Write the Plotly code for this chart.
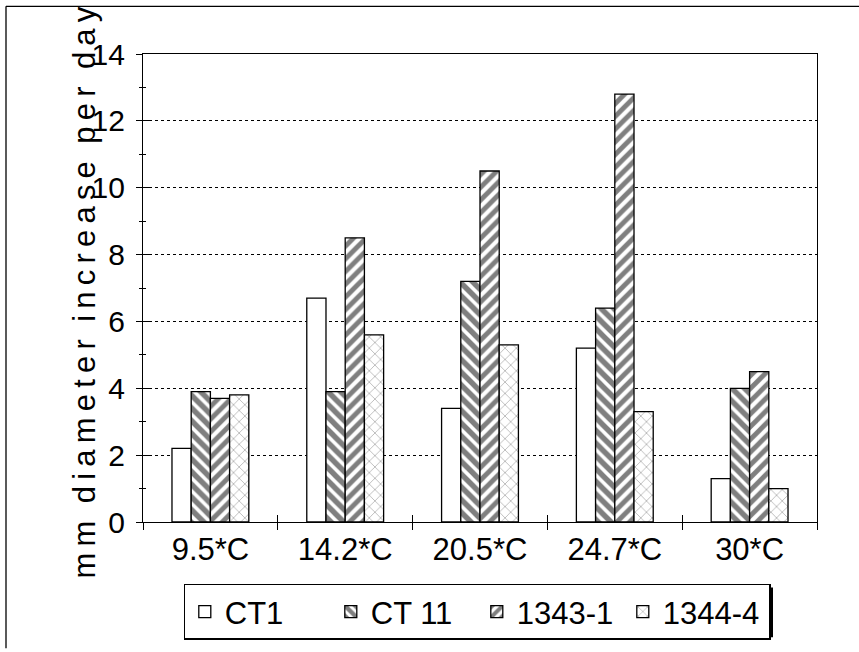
import plotly.graph_objects as go

categories = ["9.5*C", "14.2*C", "20.5*C", "24.7*C", "30*C"]
series_names = ["CT1", "CT 11", "1343-1", "1344-4"]
ct1 = [2.2, 6.7, 3.4, 5.2, 1.3]
ct11 = [3.9, 3.9, 7.2, 6.4, 4.0]
s1343_1 = [3.7, 8.5, 10.5, 12.8, 4.5]
s1344_4 = [3.8, 5.6, 5.3, 3.3, 1.0]
y_ticks = [0, 2, 4, 6, 8, 10, 12, 14]
y_title = "mm diameter increase per day"

FONT = "Liberation Sans, Arial, Helvetica, sans-serif"

patterns = [
    dict(shape="", fgcolor="black", bgcolor="white"),
    dict(shape="\\", fgcolor="black", bgcolor="white", size=9, solidity=0.6),
    dict(shape="/", fgcolor="black", bgcolor="white", size=9, solidity=0.55),
    dict(shape="x", fgcolor="#333", bgcolor="white", size=8, solidity=0.15),
]
values = [ct1, ct11, s1343_1, s1344_4]

fig = go.Figure()
for name, vals, pat in zip(series_names, values, patterns):
    fig.add_trace(go.Bar(
        x=categories, y=vals, name=name,
        marker=dict(color="white", pattern=pat,
                    line=dict(color="black", width=1.3)),
        hoverinfo="skip",
    ))

# invisible helper trace for overlay axes (inside tick halves)
fig.add_trace(go.Scatter(x=categories, y=[0] * len(categories), mode="none",
                         xaxis="x2", yaxis="y2", showlegend=False,
                         hoverinfo="skip"))

# letter-spaced title text
spaced = "\u2009\u00a0\u200a".join(
    "\u2009".join(word) for word in y_title.split(" ")
)

W, H = 859, 652
L, R, T, B = 143, 817, 54, 525
pw, ph = R - L, B - T

def px_x(x):
    return (x - L) / pw

def px_y(y):
    return (B - y) / ph

fig.update_layout(
    width=W, height=H,
    margin=dict(l=L, r=W - R, t=T, b=H - B),
    paper_bgcolor="white", plot_bgcolor="white",
    barmode="group", bargap=0.43, bargroupgap=0,
    font=dict(family=FONT, color="black", size=30),
    showlegend=True,
    legend=dict(
        orientation="h", x=px_x(477), xanchor="center",
        y=px_y(587), yanchor="top",
        bgcolor="white", bordercolor="black", borderwidth=1.3,
        font=dict(size=31, family=FONT, color="black"),
        traceorder="normal", entrywidth=101, entrywidthmode="pixels",
        itemwidth=30,
    ),
    xaxis=dict(
        type="category", categoryarray=categories, range=[-0.5, 4.5],
        showline=True, linecolor="black", linewidth=1.3, mirror=True,
        ticks="outside", tickson="boundaries", ticklen=7, tickwidth=1.3,
        tickcolor="black", showgrid=False,
        tickfont=dict(size=31, family=FONT, color="black"),
    ),
    yaxis=dict(
        range=[0, 14], tickvals=y_ticks,
        showline=True, linecolor="black", linewidth=1.3, mirror=True,
        ticks="outside", ticklen=6, tickwidth=1.3, tickcolor="black",
        minor=dict(ticks="outside", ticklen=3, dtick=1, tickcolor="black",
                   tickwidth=1.3, showgrid=False),
        showgrid=True, gridcolor="black", gridwidth=1, griddash="dot",
        zeroline=False, ticklabelstandoff=5,
        tickfont=dict(size=30, family=FONT, color="black"),
    ),
    xaxis2=dict(
        type="category", categoryarray=categories, range=[-0.5, 4.5],
        overlaying="x", anchor="y2", side="bottom",
        ticks="inside", tickson="boundaries", ticklen=7, tickwidth=1.3,
        tickcolor="black", showticklabels=False, showgrid=False,
        showline=False, zeroline=False,
    ),
    yaxis2=dict(
        range=[0, 14], tickvals=y_ticks, overlaying="y", anchor="x2",
        side="left",
        ticks="inside", ticklen=7, tickwidth=1.3, tickcolor="black",
        minor=dict(ticks="inside", ticklen=3, dtick=1, tickcolor="black",
                   tickwidth=1.3, showgrid=False),
        showticklabels=False, showgrid=False, showline=False, zeroline=False,
    ),
    annotations=[dict(
        text=spaced, textangle=-90, xref="paper", yref="paper",
        x=px_x(84), y=px_y(294), xanchor="center", yanchor="middle",
        showarrow=False, font=dict(size=31, family=FONT, color="black"),
    )],
    shapes=[
        # outer frame (left and top edges visible in the picture)
        dict(type="line", xref="paper", yref="paper",
             x0=px_x(6), x1=px_x(6), y0=px_y(652), y1=px_y(6),
             line=dict(color="black", width=1.3), layer="below"),
        dict(type="line", xref="paper", yref="paper",
             x0=px_x(6), x1=px_x(859), y0=px_y(6), y1=px_y(6),
             line=dict(color="black", width=1.3), layer="below"),
        # legend drop shadow
        dict(type="rect", xref="paper", yref="paper",
             x0=px_x(189), x1=px_x(773), y0=px_y(641), y1=px_y(591),
             line=dict(width=0), fillcolor="black", layer="above"),
    ],
)

fig.write_html("out.html")
